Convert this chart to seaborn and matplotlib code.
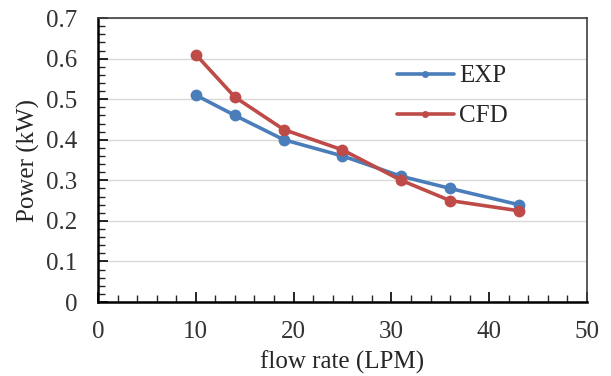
import matplotlib
matplotlib.use("Agg")
import matplotlib.pyplot as plt
import seaborn as sns
import pandas as pd
from matplotlib.ticker import MultipleLocator
from matplotlib.lines import Line2D

flow_rate = [10, 14, 19, 25, 31, 36, 43]
exp_power = [0.51, 0.46, 0.40, 0.36, 0.31, 0.28, 0.24]
cfd_power = [0.61, 0.505, 0.425, 0.375, 0.30, 0.25, 0.225]
series_names = ["EXP", "CFD"]
colors = ["#4A7EBB", "#BE4B48"]

df = pd.concat([
    pd.DataFrame({"flow": flow_rate, "power": exp_power, "series": series_names[0]}),
    pd.DataFrame({"flow": flow_rate, "power": cfd_power, "series": series_names[1]}),
])

sns.set_style("white")
plt.rcParams["font.family"] = ["Liberation Serif", "DejaVu Serif"]

fig = plt.figure(figsize=(6.11, 3.76), dpi=100)
ax = fig.add_axes([0.1604, 0.1968, 0.8003, 0.7552])

sns.lineplot(data=df, x="flow", y="power", hue="series", palette=colors,
             marker="o", markersize=8.5, markeredgewidth=0, linewidth=2.6,
             ax=ax, legend=False)

ax.set_xlim(0, 50)
ax.set_ylim(0, 0.7)
ax.xaxis.set_major_locator(MultipleLocator(10))
ax.xaxis.set_minor_locator(MultipleLocator(2))
ax.yaxis.set_minor_locator(MultipleLocator(0.02))
ax.set_yticks([0, 0.1, 0.2, 0.3, 0.4, 0.5, 0.6, 0.7])
ax.set_yticklabels(["0", "0.1", "0.2", "0.3", "0.4", "0.5", "0.6", "0.7"])
ax.grid(axis="y", which="major", color="#D9D9D9", linewidth=1)
ax.set_axisbelow(True)

ax.tick_params(axis="both", which="major", direction="in", length=7, width=1.2,
               labelsize=18, colors="black", left=True, bottom=True)
ax.tick_params(axis="x", which="major", pad=14)
ax.tick_params(axis="y", which="major", pad=15)
ax.tick_params(axis="both", which="minor", direction="in", length=5, width=1.0,
               left=True, bottom=True)
ax.tick_params(axis="both", which="major", labelcolor="#333333")

for side in ["left", "bottom"]:
    ax.spines[side].set_color("black")
    ax.spines[side].set_linewidth(1.8)
for side in ["top", "right"]:
    ax.spines[side].set_visible(True)
    ax.spines[side].set_color("#404040")
    ax.spines[side].set_linewidth(1.2)

ax.set_xlabel("flow rate (LPM)", fontsize=18, labelpad=5)
ax.set_ylabel("Power (kW)", fontsize=18, labelpad=4)

handles = [Line2D([], [], color=c, linewidth=2.6, marker="o", markersize=5,
                  markeredgewidth=0) for c in colors]
leg = ax.legend(handles, series_names, loc="upper left",
                bbox_to_anchor=(0.59, 0.87), frameon=False,
                fontsize=18, handlelength=2.3, handletextpad=0.2,
                labelspacing=0.7, borderaxespad=0)

fig.savefig("out.png", dpi=100)
